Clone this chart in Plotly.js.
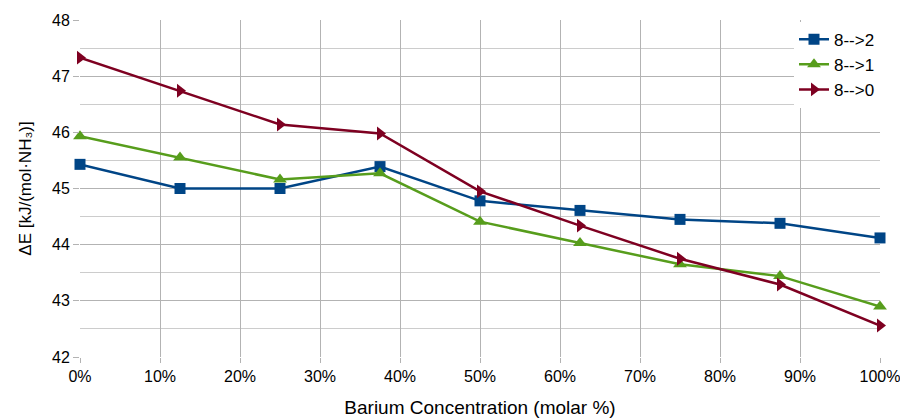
<!DOCTYPE html>
<html>
<head>
<meta charset="utf-8">
<script src="https://cdn.plot.ly/plotly-3.0.1.min.js"></script>
<style>html,body{margin:0;padding:0;background:#fff;}#chart{width:900px;height:418px;}</style>
</head>
<body>
<div id="chart"></div>
<script>
const concentration = [0, 12.5, 25, 37.5, 50, 62.5, 75, 87.5, 100];
const series82 = [45.43, 45.00, 45.00, 45.39, 44.78, 44.61, 44.45, 44.38, 44.12];
const series81 = [45.93, 45.55, 45.16, 45.27, 44.41, 44.03, 43.65, 43.44, 42.90];
const series80 = [47.33, 46.74, 46.14, 45.98, 44.95, 44.34, 43.75, 43.29, 42.56];
const seriesNames = ["8-->2", "8-->1", "8-->0"];
const xTickVals = [0, 10, 20, 30, 40, 50, 60, 70, 80, 90, 100];
const xTickText = ["0%", "10%", "20%", "30%", "40%", "50%", "60%", "70%", "80%", "90%", "100%"];

const colors = ["#004586", "#579d1c", "#7e0021"];
const symbols = ["square", "triangle-up", "triangle-right"];
const sizes = [11, 12, 12];
const allSeries = [series82, series81, series80];

const traces = allSeries.map((ys, i) => ({
  x: concentration,
  y: ys,
  name: seriesNames[i],
  type: "scatter",
  mode: "lines+markers",
  cliponaxis: false,
  line: {color: colors[i], width: 2.5},
  marker: {color: colors[i], symbol: symbols[i], size: sizes[i]}
}));

const layout = {
  width: 900, height: 418,
  margin: {l: 80, r: 20, t: 20, b: 61},
  paper_bgcolor: "#fff", plot_bgcolor: "#fff",
  font: {family: "Liberation Sans, Arial, sans-serif", size: 16, color: "#000"},
  showlegend: true,
  legend: {x: 1, y: 0.995, xanchor: "right", yanchor: "top", bgcolor: "#fff",
           font: {size: 17, color: "#000"}, itemwidth: 30, tracegroupgap: 0},
  xaxis: {
    range: [0, 100], tickmode: "array", tickvals: xTickVals, ticktext: xTickText,
    showgrid: true, gridcolor: "#b3b3b3", gridwidth: 1, zeroline: false,
    showline: false, ticks: "outside", ticklen: 5, tickcolor: "#b3b3b3",
    ticklabeloverflow: "allow",
    tickfont: {size: 16, color: "#000"},
    title: {text: "Barium Concentration (molar %)", font: {size: 19, color: "#000"}, standoff: 16}
  },
  yaxis: {
    range: [42, 48], dtick: 1, tick0: 42,
    showgrid: true, gridcolor: "#b3b3b3", gridwidth: 1, zeroline: false,
    showline: false, ticks: "outside", ticklen: 6, tickcolor: "#b3b3b3",
    tickfont: {size: 16, color: "#000"},
    minor: {dtick: 0.5, showgrid: true, gridcolor: "#cccccc", gridwidth: 1},
    title: {text: "ΔE [kJ/(mol·NH₃)]", font: {size: 17, color: "#000"}, standoff: 16}
  }
};

Plotly.newPlot("chart", traces, layout, {staticPlot: true, displayModeBar: false});
</script>
</body>
</html>
